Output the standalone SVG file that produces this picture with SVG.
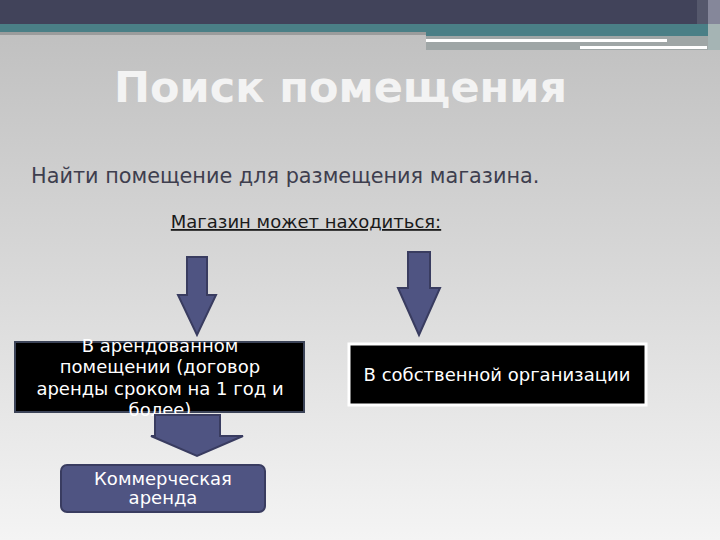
<svg xmlns="http://www.w3.org/2000/svg" width="720" height="540" viewBox="0 0 720 540">
  <defs>
    <linearGradient id="bg" x1="0" y1="0" x2="0" y2="1">
      <stop offset="0" stop-color="#bdbdbd"/>
      <stop offset="0.5" stop-color="#d8d8d8"/>
      <stop offset="1" stop-color="#f4f4f4"/>
    </linearGradient>
    <style>
      .arrow { fill: #4f5482; stroke: #393c60; stroke-width: 2; stroke-linejoin: miter; }
      .t { font-family: "DejaVu Sans", "Noto Sans", sans-serif; }
      .wt { fill: #ffffff; font-size: 18px; text-anchor: middle; }
    </style>
  </defs>
  <!-- background -->
  <rect x="0" y="0" width="720" height="540" fill="url(#bg)"/>
  <!-- header bars -->
  <rect x="0" y="0" width="720" height="24" fill="#41435a"/>
  <rect x="697" y="0" width="23" height="24" fill="#55586c"/>
  <rect x="708" y="0" width="12" height="24" fill="#85879a"/>
  <rect x="0" y="24" width="720" height="8" fill="#4a7f86"/>
  <rect x="0" y="32" width="426" height="3" fill="#9a9c9c"/>
  <rect x="426" y="32" width="282" height="4" fill="#4a7f86"/>
  <rect x="426" y="36" width="282" height="14" fill="#9fa6a6"/>
  <rect x="708" y="24" width="12" height="26" fill="#a5b4b4"/>
  <rect x="426" y="39" width="241" height="3" fill="#ffffff"/>
  <rect x="580" y="46" width="127" height="3" fill="#ffffff"/>

  <!-- title -->
  <text class="t" x="340.5" y="102" font-size="43" font-weight="bold" fill="#f3f3f3" text-anchor="middle">Поиск помещения</text>
  <text class="t" x="31" y="183" font-size="20.8" fill="#3e3e4e">Найти помещение для размещения магазина.</text>
  <text class="t" x="306" y="228" font-size="18" fill="#1a1a1a" text-anchor="middle" text-decoration="underline">Магазин может находиться:</text>

  <g id="connectors">
    <polygon id="arrow-left" class="arrow" points="187,257 207,257 207,295 216,295 197,335 178,295 187,295"/>
    <polygon id="arrow-right" class="arrow" points="408,252 430,252 430,288 440,288 419,335 398,288 408,288"/>
  </g>

  <g id="node-rented">
    <rect x="15" y="342" width="289" height="70" fill="#000000" stroke="#3c4458" stroke-width="2"/>
    <text class="t wt" x="160" y="352">В арендованном</text>
    <text class="t wt" x="160" y="373.3">помещении (договор</text>
    <text class="t wt" x="160" y="394.6">аренды сроком на 1 год и</text>
    <text class="t wt" x="160" y="416">более)</text>
  </g>

  <g id="connector-down">
    <polygon class="arrow" points="155,415 220,415 220,436 243,436 197,456 151,436 155,436"/>
  </g>

  <g id="node-own">
    <rect x="349" y="344" width="297" height="61" fill="#000000" stroke="#ffffff" stroke-width="3"/>
    <text class="t wt" x="497" y="381">В собственной организации</text>
  </g>

  <g id="node-commercial">
    <rect x="61" y="465" width="204" height="47" rx="6" ry="6" fill="#4f5482" stroke="#393c60" stroke-width="2"/>
    <text class="t wt" x="163" y="485">Коммерческая</text>
    <text class="t wt" x="163" y="504">аренда</text>
  </g>
</svg>
